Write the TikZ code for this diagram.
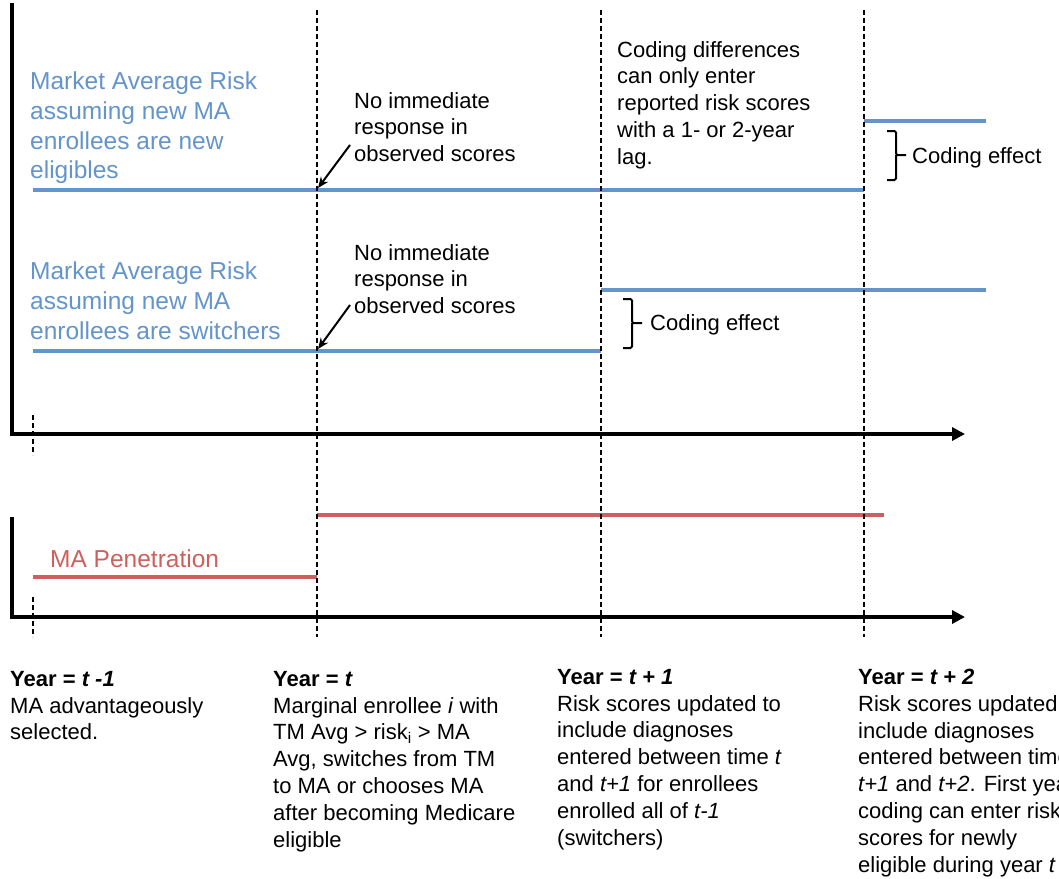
\documentclass[tikz,border=0pt]{standalone}
\usepackage{fontspec}
\setmainfont{Liberation Sans}
\usetikzlibrary{arrows.meta}
\definecolor{riskblue}{RGB}{99,148,202}
\definecolor{penred}{RGB}{205,96,92}
\begin{document}
\begin{tikzpicture}[x=1pt,y=-1pt,
  lbl/.style={anchor=north west, inner sep=0pt, align=left, font=\fontsize{22}{26.8}\selectfont},
  biglbl/.style={anchor=north west, inner sep=0pt, align=left, font=\fontsize{24.5}{29.6}\selectfont},
  axisline/.style={line width=4pt, -{Triangle[length=13pt,width=13pt]}},
  guide/.style={line width=2pt, dash pattern=on 5pt off 3pt},
  bluel/.style={riskblue, line width=4pt},
  redl/.style={penred, line width=4pt},
  pointer/.style={line width=2pt, -{Stealth[length=11pt,width=9pt]}},
  bracket/.style={line width=2pt, rounded corners=1.5pt}]
\useasboundingbox (0,0) rectangle (1059,878);
\clip (0,0) rectangle (1059,878);

% coloured level lines
\draw[bluel] (33,190) -- (864,190);
\draw[bluel] (864,121) -- (986,121);
\draw[bluel] (33,351) -- (601,351);
\draw[bluel] (601,290) -- (986,290);
\draw[redl] (33,577) -- (317,577);
\draw[redl] (317,515) -- (884,515);

% axes
\draw[axisline] (12,3) -- (12,434) -- (965,434);
\draw[axisline] (12,517) -- (12,617) -- (965,617);

% guides
\draw[guide] (33,415) -- (33,455);
\draw[guide] (33,597) -- (33,637);
\draw[guide] (317,10) -- (317,637);
\draw[guide] (601,10) -- (601,637);
\draw[guide] (864,10) -- (864,637);

% labels
\node[biglbl, text=riskblue] (mar1) at (30,72) {Market Average Risk\\assuming new MA\\enrollees are new\\eligibles};
\node[biglbl, text=riskblue] (mar2) at (30,262) {Market Average Risk\\assuming new MA\\enrollees are switchers};
\node[biglbl, text=penred] (pen) at (50,550) {MA Penetration};

\node[lbl] (nir1) at (354,92) {No immediate\\response in\\observed scores};
\node[lbl] (nir2) at (354,244) {No immediate\\response in\\observed scores};
\node[lbl] (cdiff) at (617,41) {Coding differences\\can only enter\\reported risk scores\\with a 1- or 2-year\\lag.};
\node[lbl] (ce1) at (912,147) {Coding effect};
\node[lbl] (ce2) at (650,314) {Coding effect};

% pointers
\coordinate (p1s) at (350,145);
\coordinate (p1e) at (318,188);
\coordinate (p2s) at (350,305);
\coordinate (p2e) at (318,349);
\draw[pointer] (p1s) -- (p1e);
\draw[pointer] (p2s) -- (p2e);

% brackets
\draw[bracket] (887,131) -| (896,155) -- (906,155);
\draw[bracket] (887,180) -| (896,155);
\draw[bracket] (623,299) -| (632,323) -- (642,323);
\draw[bracket] (623,348) -| (632,323);

% bottom descriptions
\node[lbl] (y0) at (10,671) {\textbf{Year = \textit{t -1}}\\MA advantageously\\selected.};
\node[lbl] (y1) at (273,671) {\textbf{Year = \textit{t}}\\Marginal enrollee \textit{i} with\\TM Avg > risk\textsubscript{i} > MA\\Avg, switches from TM\\to MA or chooses MA\\after becoming Medicare\\eligible};
\node[lbl] (y2) at (557,669) {\textbf{Year = \textit{t + 1}}\\Risk scores updated to\\include diagnoses\\entered between time \textit{t}\\and \textit{t+1} for enrollees\\enrolled all of \textit{t-1}\\(switchers)};
\node[lbl] (y3) at (858,669) {\textbf{Year = \textit{t + 2}}\\Risk scores updated to\\include diagnoses\\entered between time\\\textit{t+1} and \textit{t+2}. First year\\coding can enter risk\\scores for newly\\eligible during year \textit{t}};
\end{tikzpicture}
\end{document}
